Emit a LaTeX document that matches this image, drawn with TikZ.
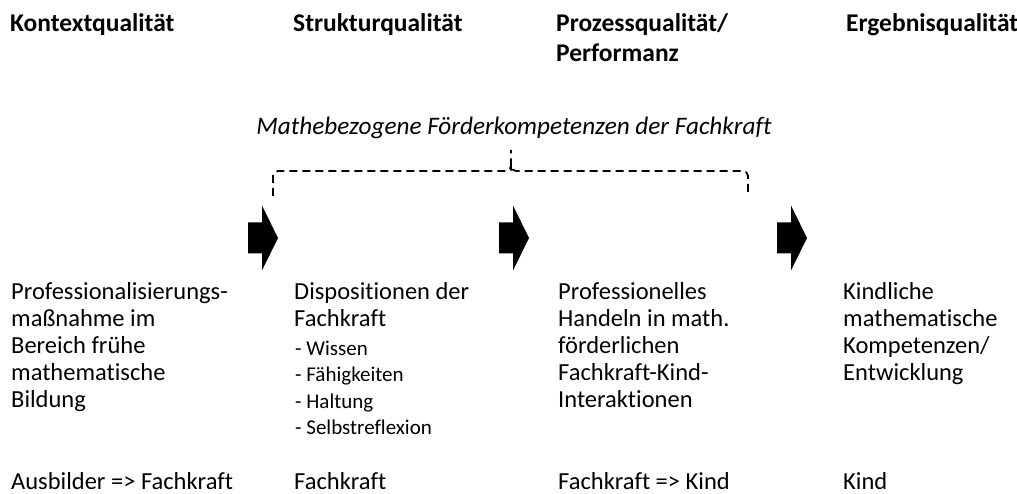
\documentclass[tikz,border=0pt]{standalone}
\usepackage{fontspec}
\setmainfont{Carlito}[Ligatures=NoCommon]
\begin{document}
\begin{tikzpicture}[x=1pt,y=-1pt,
  % multi-line nodes: the base anchor sits on the last line
  head/.style={anchor=base west,inner sep=0pt,font=\fontsize{25.5}{30}\selectfont\bfseries,align=left},
  body/.style={anchor=base west,inner sep=0pt,font=\fontsize{24.5}{27.2}\selectfont,align=left},
  small/.style={anchor=base west,inner sep=0pt,font=\fontsize{21}{26.5}\selectfont,align=left},
  brace/.style={line width=1.8pt,dash pattern=on 8pt off 5pt,rounded corners=5pt},
  blockarrow/.style={fill=black}]
\useasboundingbox (0,0) rectangle (1017,494);

% column headings
\node[head] (h1) at (10,32) {Kontextqualität};
\node[head] (h2) at (293,32) {Strukturqualität};
\node[head] (h3) at (556,62) {Prozessqualität/\\Performanz};
\node[head] (h4) at (846,32) {Ergebnisqualität};

% competence label with dashed brace
\node[anchor=base,inner sep=0pt,font=\fontsize{25.2}{30}\selectfont\itshape] (komp) at (514,135)
  {Mathebezogene Förderkompetenzen der Fachkraft};
\coordinate (bt) at (511,150);
\coordinate (bm) at (511,166);
\draw[brace] (273,196) -- (273,171) -- (bm |- 0,171) -- (bm) -- (bt);
\draw[brace] (748,192) -- (748,171) -- (bm |- 0,171) -- (bm);

% block arrows between the columns
\foreach \ax/\nm in {248/a1,499/a2,777/a3}{
  \fill[blockarrow] (\ax,222.5) -- ++(14,0) -- ++(0,-17) -- ++(16,32.5)
    -- ++(-16,32.5) -- ++(0,-17) -- ++(-14,0) -- cycle;
}

% column contents
\node[body] (c1) at (11,407.8) {Professionalisierungs-\\maßnahme im\\Bereich frühe\\mathematische\\Bildung};
\node[body] (c2) at (294,326.2) {Dispositionen der\\Fachkraft};
\node[small] (c2l) at (295,434.5) {- Wissen\\- Fähigkeiten\\- Haltung\\- Selbstreflexion};
\node[body] (c3) at (558,407.8) {Professionelles\\Handeln in math.\\förderlichen\\Fachkraft-Kind-\\Interaktionen};
\node[body] (c4) at (843,380.6) {Kindliche\\mathematische\\Kompetenzen/\\Entwicklung};

% actors
\node[body] (r1) at (11,489) {Ausbilder => Fachkraft};
\node[body] (r2) at (294,489) {Fachkraft};
\node[body] (r3) at (558,489) {Fachkraft => Kind};
\node[body] (r4) at (843,489) {Kind};
\end{tikzpicture}
\end{document}
